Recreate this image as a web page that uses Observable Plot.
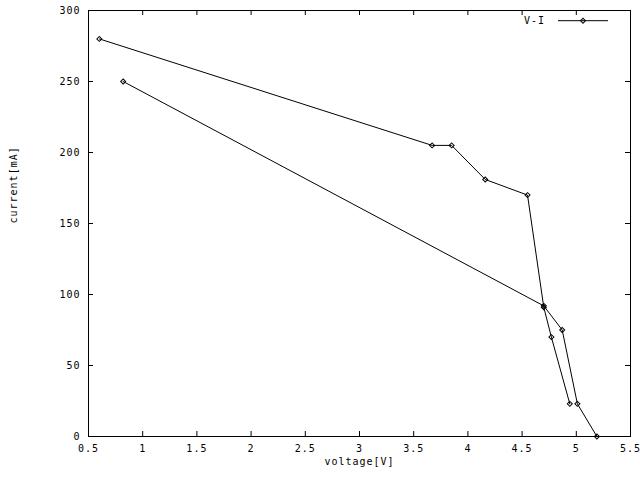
<!DOCTYPE html>
<html>
<head>
<meta charset="utf-8">
<script src="https://cdn.jsdelivr.net/npm/d3@7"></script>
<script src="https://cdn.jsdelivr.net/npm/@observablehq/plot@0.6"></script>
<style>
  html, body { margin: 0; padding: 0; background: #fff; }
</style>
</head>
<body>
<div id="chart"></div>
<script>
// Data (voltage [V], current [mA])
const seriesName = "V-I";
const sweep1Voltage = [0.60, 3.67, 3.85, 4.16, 4.55, 4.70, 4.77, 4.94];
const sweep1Current = [280, 205, 205, 181, 170, 91, 70, 23];
const sweep2Voltage = [0.82, 4.70, 4.87, 5.01, 5.19];
const sweep2Current = [250, 92, 75, 23, 0];

const xTicks = [0.5, 1, 1.5, 2, 2.5, 3, 3.5, 4, 4.5, 5, 5.5];
const yTicks = [0, 50, 100, 150, 200, 250, 300];
const xLabel = "voltage[V]";
const yLabel = "current[mA]";

const data = [
  ...sweep1Voltage.map((v, i) => ({v, c: sweep1Current[i], s: 1})),
  ...sweep2Voltage.map((v, i) => ({v, c: sweep2Current[i], s: 2}))
];

const W = 640, H = 480;
const mL = 88, mR = 10, mT = 10, mB = 44;
const plotW = W - mL - mR, plotH = H - mT - mB;
const tickLen = 5;

function legend(index, scales, values, dimensions) {
  const g = d3.create("svg:g");
  const xr = dimensions.width - dimensions.marginRight;
  const y = dimensions.marginTop + 10.7;
  g.append("text")
    .attr("x", xr - 85).attr("y", y).attr("dy", "0.32em")
    .attr("text-anchor", "end").attr("fill", "black")
    .text(seriesName);
  g.append("line")
    .attr("x1", xr - 72).attr("x2", xr - 22)
    .attr("y1", y).attr("y2", y)
    .attr("stroke", "black").attr("stroke-width", 1);
  g.append("path")
    .attr("transform", `translate(${xr - 47},${y}) rotate(45)`)
    .attr("d", d3.symbol(d3.symbolSquare, 12.5)())
    .attr("fill", "none").attr("stroke", "black").attr("stroke-width", 1);
  return g.node();
}

const chart = Plot.plot({
  width: W,
  height: H,
  marginLeft: mL,
  marginRight: mR,
  marginTop: mT,
  marginBottom: mB,
  style: {fontFamily: "'DejaVu Sans Mono', monospace", fontSize: "10px", letterSpacing: "1px", color: "black", background: "white"},
  x: {domain: [0.5, 5.5]},
  y: {domain: [0, 300]},
  marks: [
    Plot.frame({stroke: "black", strokeWidth: 1}),
    // inward ticks on all four sides
    Plot.tickX(xTicks, {x: d => d, insetTop: plotH - tickLen, stroke: "black"}),
    Plot.tickX(xTicks, {x: d => d, insetBottom: plotH - tickLen, stroke: "black"}),
    Plot.tickY(yTicks, {y: d => d, insetRight: plotW - tickLen, stroke: "black"}),
    Plot.tickY(yTicks, {y: d => d, insetLeft: plotW - tickLen, stroke: "black"}),
    Plot.axisX({ticks: xTicks, tickSize: 0, tickPadding: 8, tickFormat: d => String(d), label: null, fill: "black"}),
    Plot.axisY({ticks: yTicks, tickSize: 0, tickPadding: 8, tickFormat: d => String(d), label: null, fill: "black"}),
    Plot.text([xLabel], {frameAnchor: "bottom", dy: 28, text: d => d, fill: "black"}),
    Plot.text([yLabel], {frameAnchor: "left", dx: -75, rotate: -90, text: d => d, fill: "black"}),
    Plot.line(data, {x: "v", y: "c", z: "s", stroke: "black", strokeWidth: 1}),
    Plot.dot(data, {x: "v", y: "c", symbol: "square", r: 2, rotate: 45, fill: "none", stroke: "black", strokeWidth: 1}),
    legend
  ]
});

document.getElementById("chart").appendChild(chart);
</script>
</body>
</html>
